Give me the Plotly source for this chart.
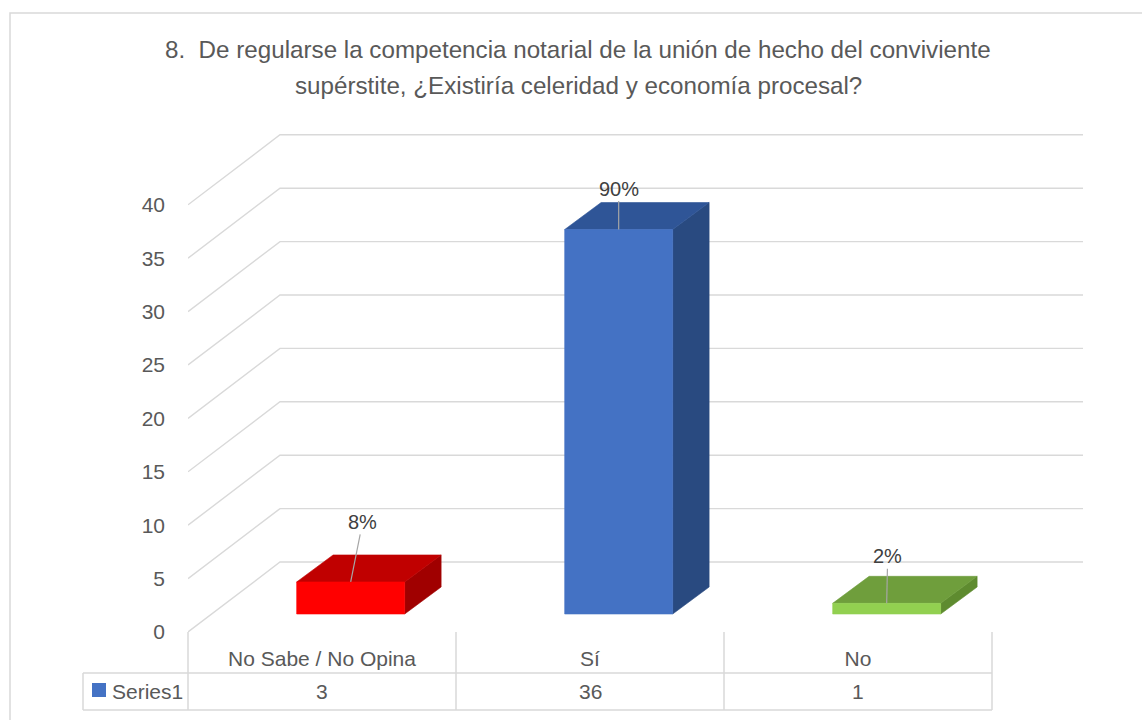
import plotly.graph_objects as go

# ---------------- data ----------------
categories = ["No Sabe / No Opina", "Sí", "No"]
values = [3, 36, 1]
pct_labels = ["8%", "90%", "2%"]
series_name = "Series1"
y_ticks = [0, 5, 10, 15, 20, 25, 30, 35, 40]
title_lines = [
    "8.\u00a0 De regularse la competencia notarial de la unión de hecho del conviviente",
    "supérstite, ¿Existiría celeridad y economía procesal?",
]

# ---------------- style ----------------
front_colors = ["#FF0000", "#4472C4", "#92D050"]
top_colors = ["#C00000", "#2F5597", "#6F9E3C"]
side_colors = ["#A00000", "#294A80", "#5E8B2F"]
label_offsets = [(12, -60), (0, -41), (1, -47)]  # pixel offsets of data labels
GRID = "#D9D9D9"
TXT = "#595959"
FONT = "Liberation Sans"

W, H = 1142, 720
L, R, T, B = 188, 52, 130, 88
PW, PH = W - L - R, H - T - B
CAT_PX = 268.0          # pixels per category
VAL_PX = 10.68          # pixels per value unit
X_RANGE = [-0.5, -0.5 + PW / CAT_PX]
Y_RANGE = [0, PH / VAL_PX]

# oblique depth (in data units)
DEPTH_X = 92 / CAT_PX
DEPTH_Y = 70 / VAL_PX
WALL_RIGHT = -0.5 + (1083 - L) / CAT_PX
BAR_FX, BAR_FY = 0.107, 18 / VAL_PX
BAR_BX, BAR_BY = 0.243, 45 / VAL_PX
BAR_HW = 54 / CAT_PX


def px_to_paper_x(p):
    return (p - L) / PW


def px_to_paper_y(p):
    return (H - B - p) / PH


def data_to_paper_x(x):
    return (x - X_RANGE[0]) / (X_RANGE[1] - X_RANGE[0])


fig = go.Figure()

# 3D gridlines (side wall + back wall)
gx, gy = [], []
for v in y_ticks:
    gx += [-0.5, -0.5 + DEPTH_X, WALL_RIGHT, None]
    gy += [v, v + DEPTH_Y, v + DEPTH_Y, None]
fig.add_trace(go.Scatter(x=gx, y=gy, mode="lines", line=dict(color=GRID, width=1.4),
                         hoverinfo="skip", showlegend=False))

# 3D bars
for i, v in enumerate(values):
    xl, xr = i + BAR_FX - BAR_HW, i + BAR_FX + BAR_HW
    bl, br = i + BAR_BX - BAR_HW, i + BAR_BX + BAR_HW
    faces = [
        ([xr, xr, br, br, xr], [BAR_FY, BAR_FY + v, BAR_BY + v, BAR_BY, BAR_FY], side_colors[i]),
        ([xl, xr, br, bl, xl], [BAR_FY + v, BAR_FY + v, BAR_BY + v, BAR_BY + v, BAR_FY + v], top_colors[i]),
        ([xl, xr, xr, xl, xl], [BAR_FY, BAR_FY, BAR_FY + v, BAR_FY + v, BAR_FY], front_colors[i]),
    ]
    for fx, fy, col in faces:
        fig.add_trace(go.Scatter(x=fx, y=fy, mode="lines", fill="toself", fillcolor=col,
                                 line=dict(color=col, width=0.6), hoverinfo="skip",
                                 showlegend=False))
    fig.add_annotation(x=i + BAR_FX, y=BAR_FY + v, text=pct_labels[i], showarrow=True,
                       arrowhead=0, arrowwidth=1.2, arrowcolor="#A6A6A6",
                       ax=label_offsets[i][0], ay=label_offsets[i][1],
                       font=dict(family=FONT, size=20, color="#404040"))

# data table
shapes = []
tbl_top, tbl_mid, tbl_bot = px_to_paper_y(632), px_to_paper_y(673), px_to_paper_y(710)
tbl_left = px_to_paper_x(83)
bounds = [data_to_paper_x(i - 0.5) for i in range(len(categories) + 1)]
line_style = dict(color=GRID, width=1.5)
for bx in bounds:
    shapes.append(dict(type="line", xref="paper", yref="paper", x0=bx, x1=bx,
                       y0=tbl_top, y1=tbl_bot, line=line_style))
shapes.append(dict(type="line", xref="paper", yref="paper", x0=tbl_left, x1=bounds[-1],
                   y0=tbl_mid, y1=tbl_mid, line=line_style))
shapes.append(dict(type="line", xref="paper", yref="paper", x0=tbl_left, x1=bounds[-1],
                   y0=tbl_bot, y1=tbl_bot, line=line_style))
shapes.append(dict(type="line", xref="paper", yref="paper", x0=tbl_left, x1=tbl_left,
                   y0=tbl_mid, y1=tbl_bot, line=line_style))
# legend key
shapes.append(dict(type="rect", xref="paper", yref="paper", x0=px_to_paper_x(92),
                   x1=px_to_paper_x(106), y0=px_to_paper_y(697), y1=px_to_paper_y(683),
                   fillcolor=front_colors[1], line=dict(width=0)))
# outer chart border
shapes.append(dict(type="rect", xref="paper", yref="paper", x0=px_to_paper_x(10),
                   x1=px_to_paper_x(1160), y0=px_to_paper_y(740), y1=px_to_paper_y(13),
                   line=dict(color=GRID, width=1.5), fillcolor="rgba(0,0,0,0)"))

row_y = px_to_paper_y(691)
for i, v in enumerate(values):
    fig.add_annotation(x=i, y=row_y, xref="x", yref="paper", text=str(v), showarrow=False,
                       xanchor="center", yanchor="middle",
                       font=dict(family=FONT, size=21, color=TXT))
fig.add_annotation(x=px_to_paper_x(110), y=row_y, xref="paper", yref="paper",
                   text=series_name, showarrow=False, xanchor="left", yanchor="middle",
                   font=dict(family=FONT, size=21, color=TXT))

# title
for k, (line, ypx) in enumerate(zip(title_lines, [50, 85])):
    fig.add_annotation(x=px_to_paper_x(578), y=px_to_paper_y(ypx), xref="paper", yref="paper",
                       text=line, showarrow=False, xanchor="center", yanchor="middle",
                       font=dict(family=FONT, size=24.2, color=TXT))

fig.update_layout(
    width=W, height=H,
    margin=dict(l=L, r=R, t=T, b=B, autoexpand=False),
    plot_bgcolor="white", paper_bgcolor="white",
    shapes=shapes,
    showlegend=False,
    xaxis=dict(range=X_RANGE, tickvals=list(range(len(categories))), ticktext=categories,
               showgrid=False, zeroline=False, showline=False, ticks="",
               tickfont=dict(family=FONT, size=21, color=TXT), ticklabelstandoff=12,
               automargin=False, fixedrange=True),
    yaxis=dict(range=Y_RANGE, tickvals=y_ticks, ticktext=[str(t) for t in y_ticks],
               showgrid=False, zeroline=False, showline=False, ticks="",
               tickfont=dict(family=FONT, size=21, color=TXT), ticklabelstandoff=22,
               automargin=False, fixedrange=True),
)

fig.write_html("out.html", config={"displayModeBar": False},
               post_script="document.body.style.margin='0px';document.body.style.overflow='hidden';")
